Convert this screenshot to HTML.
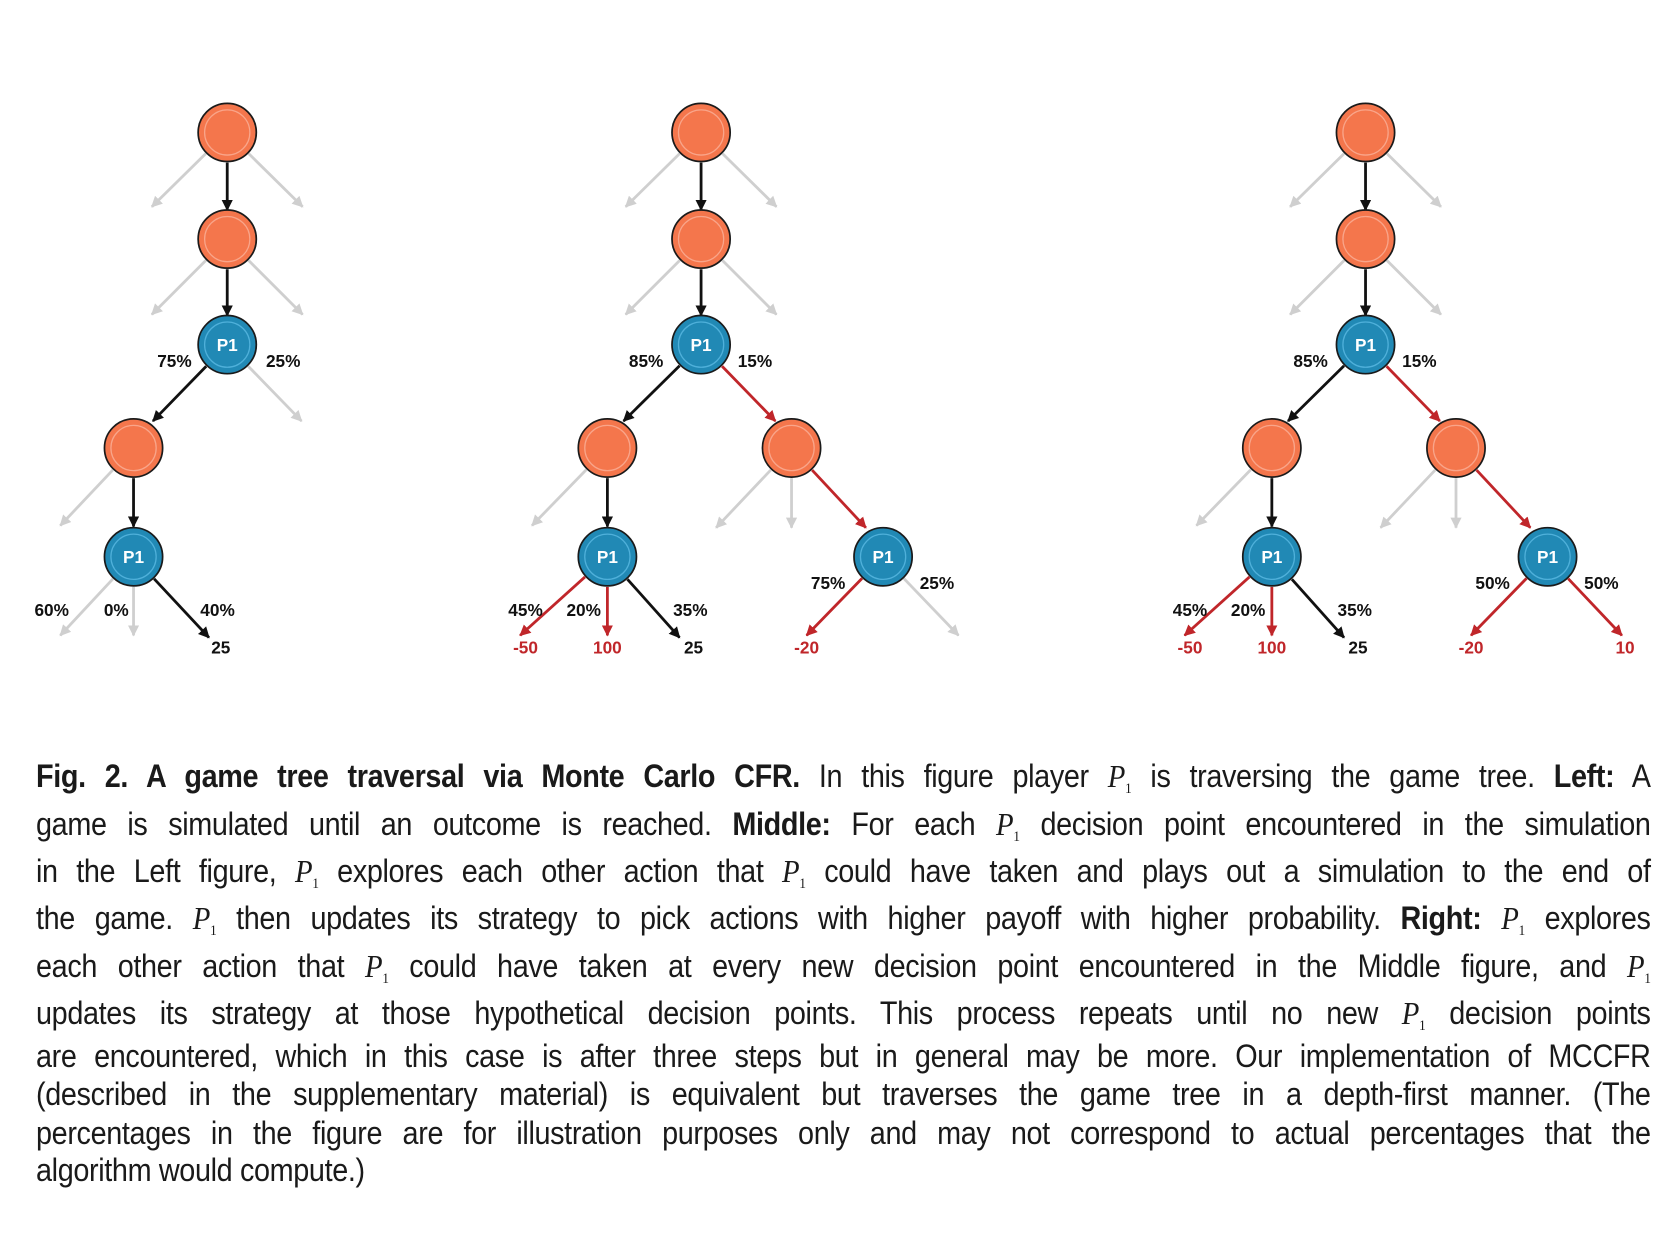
<!DOCTYPE html>
<html><head><meta charset="utf-8"><style>
html,body{margin:0;padding:0;background:#fff;}
body{width:1680px;height:1246px;position:relative;overflow:hidden;}
svg{position:absolute;left:0;top:0;}
.cap{position:absolute;left:36px;width:1794px;transform-origin:0 0;transform:scaleX(0.9);font-family:"Liberation Sans",sans-serif;font-size:32px;letter-spacing:-0.4px;color:#1a1a1a;}
.ln{position:absolute;left:0;width:1794px;height:36px;line-height:36px;text-align:justify;text-align-last:justify;white-space:normal;}
.p{font-family:"Liberation Serif",serif;font-style:italic;font-size:32px;}
.p sub{font-style:normal;font-size:15px;vertical-align:-6px;}
b{font-weight:bold;}
</style></head><body>
<svg id="s" width="1680" height="1246" viewBox="0 0 1560 1157" xmlns="http://www.w3.org/2000/svg">
<defs>
<marker id="mg" viewBox="0 0 10 10" refX="9" refY="5" markerWidth="4" markerHeight="4" orient="auto"><path d="M0,0L10,5L0,10z" fill="#cfcfcf"/></marker>
<marker id="mk" viewBox="0 0 10 10" refX="9" refY="5" markerWidth="4" markerHeight="4" orient="auto"><path d="M0,0L10,5L0,10z" fill="#111"/></marker>
<marker id="mr" viewBox="0 0 10 10" refX="9" refY="5" markerWidth="4" markerHeight="4" orient="auto"><path d="M0,0L10,5L0,10z" fill="#c0262a"/></marker>
</defs>
<g id="edges"></g><g id="nodes"></g><g id="labels" font-family="Liberation Sans,sans-serif" font-size="16" font-weight="bold"></g>
</svg>
<script>
var R=27,NS="http://www.w3.org/2000/svg";
function el(t,a,p){var e=document.createElementNS(NS,t);for(var k in a)e.setAttribute(k,a[k]);document.getElementById(p).appendChild(e);return e;}
var col={g:"#cfcfcf",k:"#111",r:"#c0262a"};
function E(x1,y1,x2,y2,c){var dx=x2-x1,dy=y2-y1,L=Math.sqrt(dx*dx+dy*dy);var sx=x1+dx/L*(R+1),sy=y1+dy/L*(R+1);
el("line",{x1:sx,y1:sy,x2:x2,y2:y2,stroke:col[c],"stroke-width":2.6,"marker-end":"url(#m"+c+")"},"edges");}
function N(x,y,b){el("circle",{cx:x,cy:y,r:R,fill:b?"#2189b5":"#f4764c",stroke:"#1a1a1a","stroke-width":1.6},"nodes");
el("circle",{cx:x,cy:y,r:R-6,fill:"none",stroke:b?"#4fb0da":"#f9a58a","stroke-width":1.2},"nodes");
if(b){var t=el("text",{x:x,y:y+6,"text-anchor":"middle",fill:"#fff","font-family":"Liberation Sans,sans-serif","font-size":16,"font-weight":"bold"},"nodes");t.textContent="P1";}}
function T(x,y,s,c){var t=el("text",{x:x,y:y,"text-anchor":"middle",fill:c?"#c0262a":"#111"},"labels");t.textContent=s;}
function top3(cx){
 E(cx,123,cx-70,192,"g");E(cx,123,cx+70,192,"g");E(cx,123,cx,195,"k");
 E(cx,222,cx-70,292,"g");E(cx,222,cx+70,292,"g");E(cx,222,cx,293,"k");
 N(cx,123);N(cx,222);N(cx,320,1);}
top3(211);
E(211,320,142,391,"k");E(211,320,280,391,"g");
E(124,416,56,488,"g");E(124,416,124,489,"k");
E(124,517,56,590,"g");E(124,517,124,590,"g");E(124,517,194,592,"k");
N(124,416);N(124,517,1);
T(162,341,"75%");T(263,341,"25%");T(48,572,"60%");T(108,572,"0%");T(202,572,"40%");T(205,607,"25");
function mid(cx,full){
 var lx=cx-87,rx=cx+84,px=cx+169;
 top3(cx);
 E(cx,320,lx+15,391,"k");E(cx,320,rx-15,391,"r");
 E(lx,416,lx-70,488,"g");E(lx,416,lx,489,"k");
 E(rx,416,rx-70,490,"g");E(rx,416,rx,490,"g");E(rx,416,px-16,490,"r");
 E(lx,517,lx-81,590,"r");E(lx,517,lx,590,"r");E(lx,517,lx+67,592,"k");
 if(full){E(px,517,px-71,590,"r");E(px,517,px+69,590,"r");}
 else{E(px,517,px-71,590,"r");E(px,517,px+70,590,"g");}
 N(lx,416);N(rx,416);N(lx,517,1);N(px,517,1);
 T(cx-51,341,"85%");T(cx+50,341,"15%");
 T(lx-76,572,"45%");T(lx-22,572,"20%");T(lx+77,572,"35%");
 T(lx-76,607,"-50",1);T(lx,607,"100",1);T(lx+80,607,"25");
 T(px-71,607,"-20",1);
 if(full){T(px-51,547,"50%");T(px+50,547,"50%");T(px+72,607,"10",1);}
 else{T(px-51,547,"75%");T(px+50,547,"25%");}
}
mid(651,0);mid(1268,1);
</script>
<div class="cap">
<div class="ln" style="top:758px"><b>Fig. 2. A game tree traversal via Monte Carlo CFR.</b> In this figure player <span class="p">P<sub>1</sub></span> is traversing the game tree. <b>Left:</b> A</div>
<div class="ln" style="top:806px">game is simulated until an outcome is reached. <b>Middle:</b> For each <span class="p">P<sub>1</sub></span> decision point encountered in the simulation</div>
<div class="ln" style="top:853px">in the Left figure, <span class="p">P<sub>1</sub></span> explores each other action that <span class="p">P<sub>1</sub></span> could have taken and plays out a simulation to the end of</div>
<div class="ln" style="top:900px">the game. <span class="p">P<sub>1</sub></span> then updates its strategy to pick actions with higher payoff with higher probability. <b>Right:</b> <span class="p">P<sub>1</sub></span> explores</div>
<div class="ln" style="top:948px">each other action that <span class="p">P<sub>1</sub></span> could have taken at every new decision point encountered in the Middle figure, and <span class="p">P<sub>1</sub></span></div>
<div class="ln" style="top:995px">updates its strategy at those hypothetical decision points. This process repeats until no new <span class="p">P<sub>1</sub></span> decision points</div>
<div class="ln" style="top:1038px">are encountered, which in this case is after three steps but in general may be more. Our implementation of MCCFR</div>
<div class="ln" style="top:1076px">(described in the supplementary material) is equivalent but traverses the game tree in a depth-first manner. (The</div>
<div class="ln" style="top:1115px">percentages in the figure are for illustration purposes only and may not correspond to actual percentages that the</div>
<div class="ln" style="top:1152px;text-align-last:left">algorithm would compute.)</div>
</div>
</body></html>
